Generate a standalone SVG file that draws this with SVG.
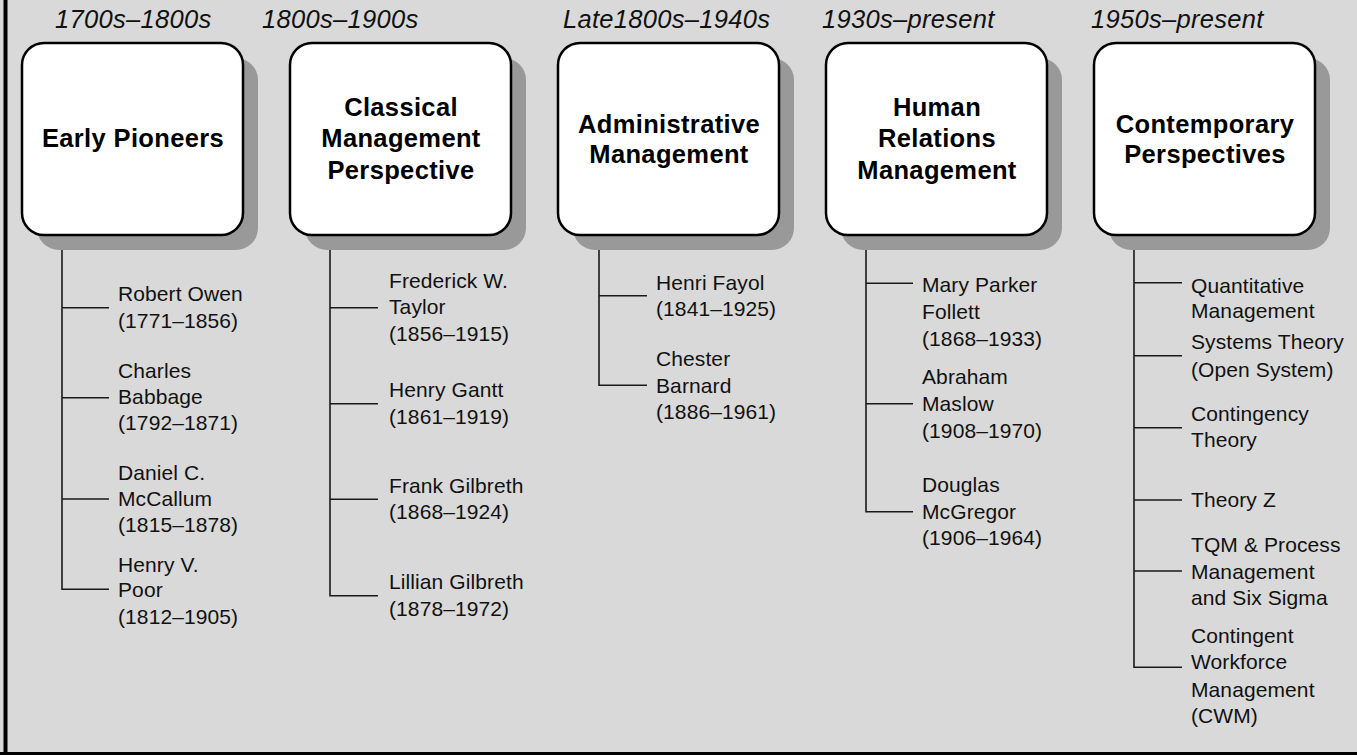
<svg xmlns="http://www.w3.org/2000/svg" width="1357" height="755" viewBox="0 0 1357 755">
  <style>
    .bg { fill: #d9d9d9; }
    .frame { fill: #000; }
    .shadow { fill: #999999; }
    .box { fill: #ffffff; stroke: #000; stroke-width: 2.5; }
    .title { font-family: "Liberation Sans", Arial, sans-serif; font-weight: bold; font-size: 25.5px; letter-spacing: 0.35px; fill: #000; text-anchor: middle; }
    .era { font-family: "Liberation Sans", Arial, sans-serif; font-style: italic; font-size: 25.5px; letter-spacing: 0.3px; fill: #111; }
    .item { font-family: "Liberation Sans", Arial, sans-serif; font-size: 21px; letter-spacing: 0.1px; fill: #111; }
    .conn { fill: none; stroke: #1a1a1a; stroke-width: 1.6; }
  </style>

  <!-- background panel with left and bottom rules -->
  <rect class="bg" x="0" y="0" width="1357" height="755"/>
  <rect class="frame" x="3.5" y="0" width="4" height="755"/>
  <rect class="frame" x="0" y="752" width="1357" height="3"/>

  <!-- era labels -->
  <g id="eras">
    <text class="era" x="55" y="28">1700s–1800s</text>
    <text class="era" x="262" y="28">1800s–1900s</text>
    <text class="era" x="563" y="28">Late1800s–1940s</text>
    <text class="era" x="822" y="28">1930s–present</text>
    <text class="era" x="1091" y="28">1950s–present</text>
  </g>

  <!-- connectors: trunk from each box with branches to each name -->
  <g id="connectors">
    <path class="conn" d="M62 235 V589.3 H109 M62 307.7 H109 M62 397.7 H109 M62 499 H109"/>
    <path class="conn" d="M330 235 V595.7 H378 M330 307.7 H378 M330 403.7 H378 M330 499.3 H378"/>
    <path class="conn" d="M599 235 V385.3 H647 M599 295.7 H647"/>
    <path class="conn" d="M866 235 V511.7 H913 M866 283.3 H913 M866 403.7 H913"/>
    <path class="conn" d="M1134 235 V667.3 H1182 M1134 282.7 H1182 M1134 355.7 H1182 M1134 427.7 H1182 M1134 500 H1182 M1134 571 H1182"/>
  </g>

  <!-- column 1 -->
  <g id="early-pioneers">
    <rect class="shadow" x="37" y="58" width="221" height="192" rx="22"/>
    <rect class="box" x="22" y="43" width="221" height="192" rx="22"/>
    <text class="title" x="133" y="147">Early Pioneers</text>
  </g>
  <g id="robert-owen">
    <text class="item" x="118" y="301">Robert Owen</text>
    <text class="item" x="118" y="327.5">(1771–1856)</text>
  </g>
  <g id="charles-babbage">
    <text class="item" x="118" y="377.5">Charles</text>
    <text class="item" x="118" y="403.5">Babbage</text>
    <text class="item" x="118" y="430">(1792–1871)</text>
  </g>
  <g id="daniel-mccallum">
    <text class="item" x="118" y="480">Daniel C.</text>
    <text class="item" x="118" y="506">McCallum</text>
    <text class="item" x="118" y="532">(1815–1878)</text>
  </g>
  <g id="henry-poor">
    <text class="item" x="118" y="571.5">Henry V.</text>
    <text class="item" x="118" y="597">Poor</text>
    <text class="item" x="118" y="624">(1812–1905)</text>
  </g>

  <!-- column 2 -->
  <g id="classical">
    <rect class="shadow" x="305" y="58" width="221" height="192" rx="22"/>
    <rect class="box" x="290" y="43" width="221" height="192" rx="22"/>
    <text class="title" x="401" y="115.5">Classical</text>
    <text class="title" x="401" y="147">Management</text>
    <text class="title" x="401" y="178.5">Perspective</text>
  </g>
  <g id="frederick-taylor">
    <text class="item" x="389" y="287.5">Frederick W.</text>
    <text class="item" x="389" y="314">Taylor</text>
    <text class="item" x="389" y="341">(1856–1915)</text>
  </g>
  <g id="henry-gantt">
    <text class="item" x="389" y="397">Henry Gantt</text>
    <text class="item" x="389" y="423.5">(1861–1919)</text>
  </g>
  <g id="frank-gilbreth">
    <text class="item" x="389" y="492.5">Frank Gilbreth</text>
    <text class="item" x="389" y="519">(1868–1924)</text>
  </g>
  <g id="lillian-gilbreth">
    <text class="item" x="389" y="589">Lillian Gilbreth</text>
    <text class="item" x="389" y="616">(1878–1972)</text>
  </g>

  <!-- column 3 -->
  <g id="administrative">
    <rect class="shadow" x="573" y="58" width="221" height="192" rx="22"/>
    <rect class="box" x="558" y="43" width="221" height="192" rx="22"/>
    <text class="title" x="669" y="133.3">Administrative</text>
    <text class="title" x="669" y="162.7">Management</text>
  </g>
  <g id="henri-fayol">
    <text class="item" x="656" y="289.5">Henri Fayol</text>
    <text class="item" x="656" y="316">(1841–1925)</text>
  </g>
  <g id="chester-barnard">
    <text class="item" x="656" y="366">Chester</text>
    <text class="item" x="656" y="392.7">Barnard</text>
    <text class="item" x="656" y="419">(1886–1961)</text>
  </g>

  <!-- column 4 -->
  <g id="human-relations">
    <rect class="shadow" x="841" y="58" width="221" height="192" rx="22"/>
    <rect class="box" x="826" y="43" width="221" height="192" rx="22"/>
    <text class="title" x="937" y="115.5">Human</text>
    <text class="title" x="937" y="147">Relations</text>
    <text class="title" x="937" y="178.5">Management</text>
  </g>
  <g id="mary-parker-follett">
    <text class="item" x="922" y="292.3">Mary Parker</text>
    <text class="item" x="922" y="319">Follett</text>
    <text class="item" x="922" y="345.7">(1868–1933)</text>
  </g>
  <g id="abraham-maslow">
    <text class="item" x="922" y="384">Abraham</text>
    <text class="item" x="922" y="411">Maslow</text>
    <text class="item" x="922" y="437.7">(1908–1970)</text>
  </g>
  <g id="douglas-mcgregor">
    <text class="item" x="922" y="492">Douglas</text>
    <text class="item" x="922" y="519">McGregor</text>
    <text class="item" x="922" y="545">(1906–1964)</text>
  </g>

  <!-- column 5 -->
  <g id="contemporary">
    <rect class="shadow" x="1109" y="58" width="221" height="192" rx="22"/>
    <rect class="box" x="1094" y="43" width="221" height="192" rx="22"/>
    <text class="title" x="1205" y="133.3">Contemporary</text>
    <text class="title" x="1205" y="162.7">Perspectives</text>
  </g>
  <g id="quantitative">
    <text class="item" x="1191" y="292.7">Quantitative</text>
    <text class="item" x="1191" y="318.3">Management</text>
  </g>
  <g id="systems-theory">
    <text class="item" x="1191" y="349">Systems Theory</text>
    <text class="item" x="1191" y="376.7">(Open System)</text>
  </g>
  <g id="contingency-theory">
    <text class="item" x="1191" y="420.7">Contingency</text>
    <text class="item" x="1191" y="447.3">Theory</text>
  </g>
  <g id="theory-z">
    <text class="item" x="1191" y="506.7">Theory Z</text>
  </g>
  <g id="tqm">
    <text class="item" x="1191" y="551.7">TQM &amp; Process</text>
    <text class="item" x="1191" y="579">Management</text>
    <text class="item" x="1191" y="605">and Six Sigma</text>
  </g>
  <g id="cwm">
    <text class="item" x="1191" y="643.3">Contingent</text>
    <text class="item" x="1191" y="669">Workforce</text>
    <text class="item" x="1191" y="696.7">Management</text>
    <text class="item" x="1191" y="722.7">(CWM)</text>
  </g>
</svg>
